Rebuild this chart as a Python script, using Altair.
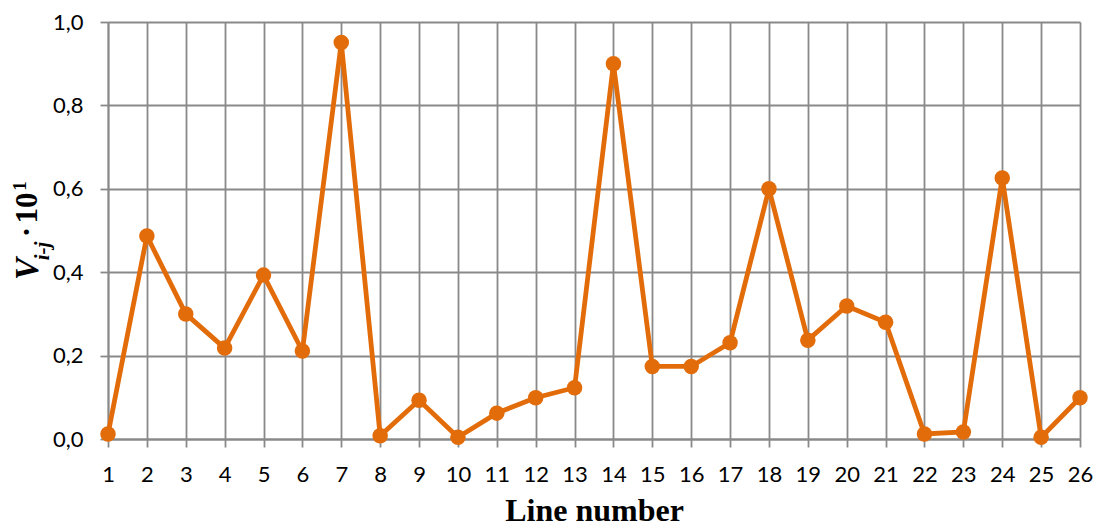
import altair as alt
import pandas as pd

line_numbers = list(range(1, 27))
values = [0.012, 0.487, 0.300, 0.218, 0.393, 0.211, 0.951, 0.008, 0.093, 0.004,
          0.062, 0.099, 0.123, 0.900, 0.174, 0.174, 0.231, 0.600, 0.237, 0.319,
          0.280, 0.012, 0.017, 0.626, 0.004, 0.099]
y_ticks = [0.0, 0.2, 0.4, 0.6, 0.8, 1.0]

df = pd.DataFrame({"line": line_numbers, "v": values})

ORANGE = "#E36C0A"
GRID = "#898989"
W, H = 972, 417

x_enc = alt.X(
    "line:O",
    scale=alt.Scale(type="point", padding=0),
    axis=alt.Axis(
        title="Line number",
        titleFont="Liberation Serif",
        titleFontSize=32,
        titleFontWeight="bold",
        titleColor="#000000",
        titleBaseline="alphabetic",
        titleY=81,
        labelFont="Lato",
        labelFontSize=22,
        labelColor="#000000",
        labelPadding=17,
        labelAngle=0,
        grid=True,
        tickSize=8,
    ),
)
y_enc = alt.Y(
    "v:Q",
    scale=alt.Scale(domain=[0, 1], nice=False, zero=True),
    axis=alt.Axis(
        title=None,
        values=y_ticks,
        labelExpr="replace(format(datum.value, '.1f'), '.', ',')",
        labelFont="Lato",
        labelFontSize=22,
        labelColor="#000000",
        labelPadding=17,
        grid=True,
        tickSize=8,
    ),
)

base = alt.Chart(df)
line = base.mark_line(color=ORANGE, strokeWidth=4.8).encode(x=x_enc, y=y_enc)
pts = base.mark_point(filled=True, color=ORANGE, size=240, opacity=1).encode(x=x_enc, y=y_enc)

one = alt.Data(values=[{"a": 1}])

def ttext(txt, x, y, size, style, weight):
    return alt.Chart(one).mark_text(
        text=txt, angle=270, align="center", baseline="alphabetic",
        font="Liberation Serif", fontSize=size, fontStyle=style, fontWeight=weight,
        color="#000000",
    ).encode(x=alt.value(x), y=alt.value(y))

# plot area left edge sits at page x = 108, top at page y = 22
t_v = ttext("V", -70, 247, 33, "italic", "bold")
t_sub = ttext("i-j", -59, 229, 21, "italic", "bold")
t_dot = ttext("·", -71, 210, 31, "normal", "bold")
t_ten = ttext("10", -71, 186, 31, "normal", "bold")
t_sup = ttext("1", -82, 164, 19, "normal", "bold")

chart = alt.layer(line, pts, t_v, t_sub, t_dot, t_ten, t_sup).properties(
    width=W, height=H,
    autosize=alt.AutoSizeParams(type="none"),
    padding={"left": 100, "top": 14, "right": 14, "bottom": 85},
).configure_view(stroke=None).configure_axis(
    domainColor=GRID, domainWidth=1.8, gridColor=GRID, gridWidth=1.8,
    gridOpacity=1, tickColor=GRID, tickWidth=1.8,
)

chart.save("out.html", embed_options={"renderer": "svg", "actions": False})
